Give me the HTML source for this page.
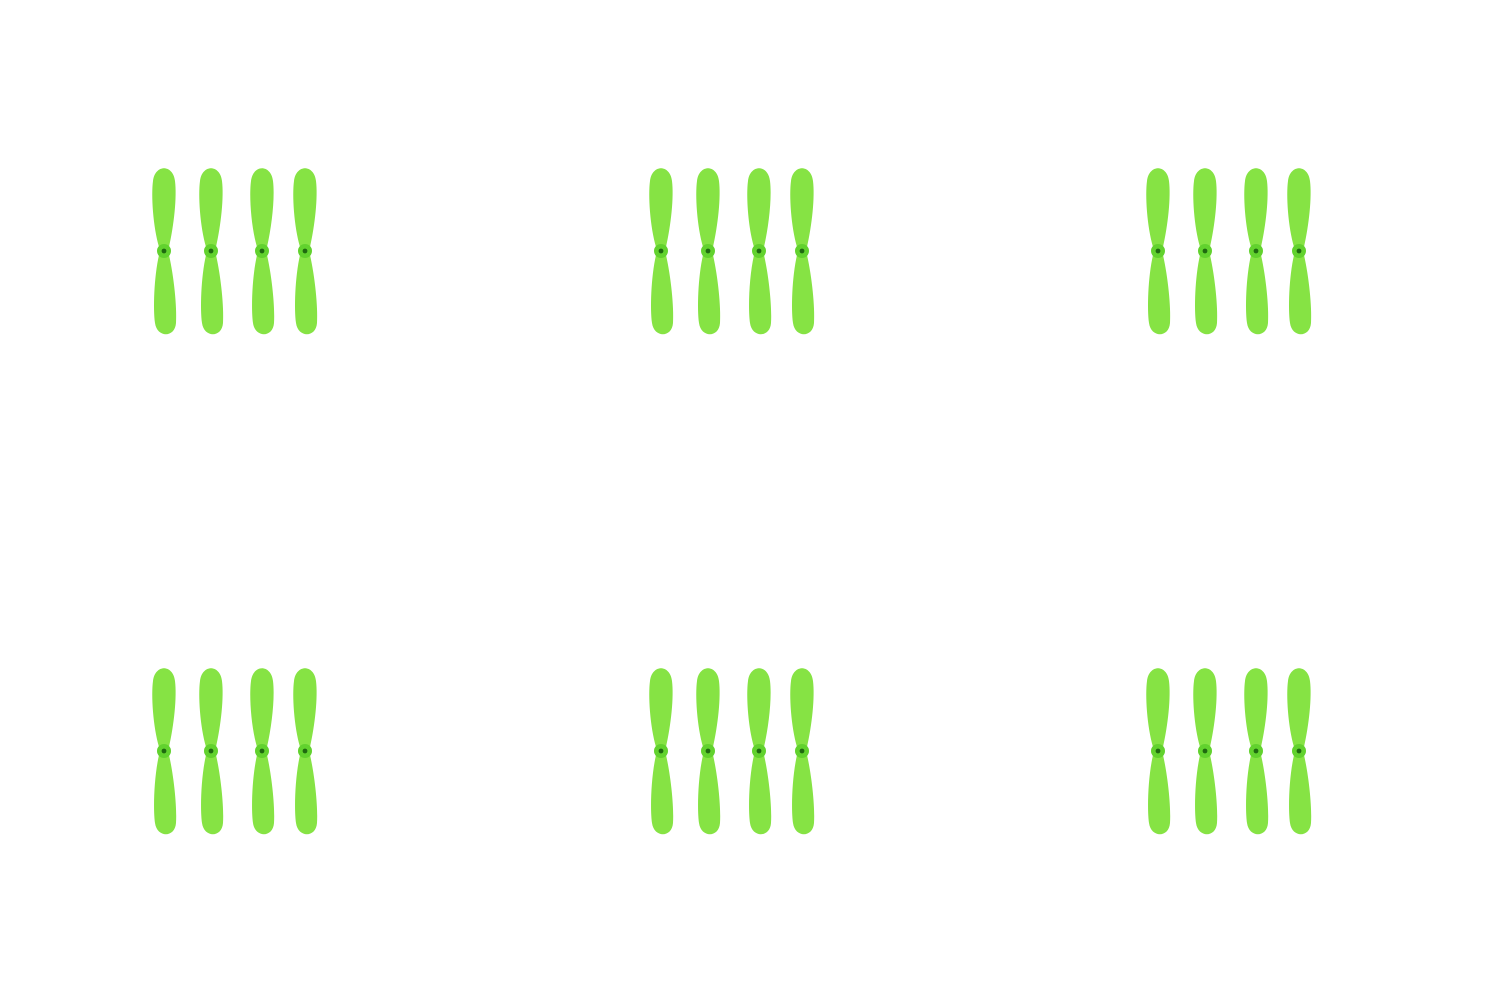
<!DOCTYPE html>
<html><head><meta charset="utf-8"><title>Green propellers</title>
<style>html,body{margin:0;padding:0;background:#fff;width:1491px;height:1000px;overflow:hidden}</style>
</head><body>
<svg id="scene" width="1491" height="1000" viewBox="0 0 1491 1000" xmlns="http://www.w3.org/2000/svg">
<defs>
<g id="prop">
<path d="M -5,-4 C -11,-24 -13,-56 -11,-70 C -9,-87 9,-87 11,-70 C 13,-54 10,-26 5,-4 Z" fill="#86e344"/>
<path d="M -5,4 C -10,26 -11,58 -9,72 C -7,87 11,87 12,72 C 13,56 10,26 5,4 Z" fill="#86e344"/>
<circle r="7" fill="#62d22e"/>
<circle r="2.4" fill="#1f6a10"/>
</g>
</defs>
</svg>
<script>
const groupX=[0,497,994];
const groupY=[0,500];
const propX=[164,211,262,305];
const hubY=251;
const svg=document.getElementById('scene');
const NS='http://www.w3.org/2000/svg';
groupY.forEach((gy,r)=>groupX.forEach((gx,c)=>{
  const g=document.createElementNS(NS,'g');
  
  
  propX.forEach((px,i)=>{
    const u=document.createElementNS(NS,'use');
    u.setAttribute('href','#prop');
    u.setAttribute('transform','translate('+(gx+px)+','+(gy+hubY)+')');
    
    
    g.appendChild(u);
  });
  svg.appendChild(g);
}));
</script>
</body></html>
